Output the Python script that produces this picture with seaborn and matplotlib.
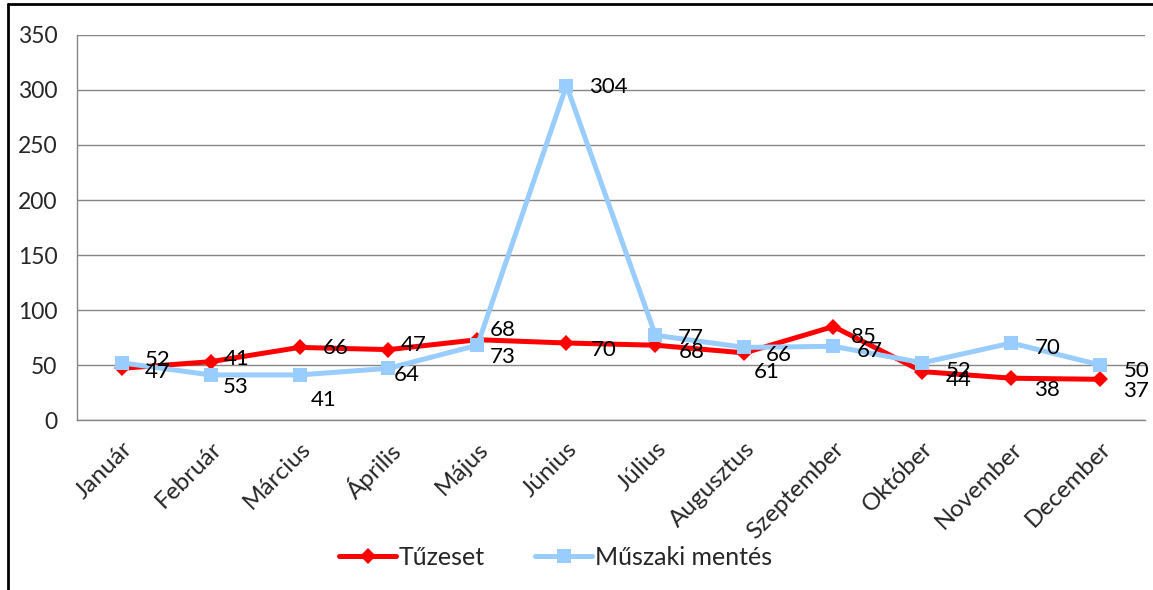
import pandas as pd
import matplotlib.pyplot as plt
import seaborn as sns
from matplotlib.lines import Line2D

# Adatok
honapok = ['Január', 'Február', 'Március', 'Április', 'Május', 'Június',
           'Július', 'Augusztus', 'Szeptember', 'Október', 'November', 'December']
tuzeset = [47, 53, 66, 64, 73, 70, 68, 61, 85, 44, 38, 37]
muszaki = [52, 41, 41, 47, 68, 304, 77, 66, 67, 52, 70, 50]
y_ticks = [0, 50, 100, 150, 200, 250, 300, 350]

# címke eltolások pixelben (x, y)
tuz_off = [(23, -4), (12, -25), (23, -1), (5, -25), (12, -17), (24, -7),
           (23, -7), (9, -19), (17, -10), (23, -8), (23, -12), (23, -12)]
mus_off = [(23, 3), (13, 16), (11, -25), (12, 23), (12, 15), (23, -1),
           (22, -3), (21, -8), (23, -5), (23, -8), (23, -5), (23, -6)]

sns.set_style('white')
plt.rcParams['font.family'] = ['Lato', 'DejaVu Sans']
FS = 16

df = pd.DataFrame({
    'honap': honapok * 2,
    'ertek': tuzeset + muszaki,
    'sorozat': ['Tűzeset'] * 12 + ['Műszaki mentés'] * 12,
})

fig = plt.figure(figsize=(11.53, 5.90), dpi=100)
ax = fig.add_axes([0.0668, 0.2881, 0.9262, 0.6526])

sns.lineplot(data=df, x='honap', y='ertek', hue='sorozat', style='sorozat',
             palette={'Tűzeset': '#FF0000', 'Műszaki mentés': '#99CCFF'},
             markers={'Tűzeset': 'D', 'Műszaki mentés': 's'},
             dashes=False, sort=False, linewidth=3.6, markeredgewidth=0,
             ax=ax)
for ln in ax.lines:
    if ln.get_marker() == 'D':
        ln.set_markersize(8.5)
    elif ln.get_marker() == 's':
        ln.set_markersize(10)

# adatcímkék
for i, (v, off) in enumerate(zip(tuzeset, tuz_off)):
    ax.annotate(str(v), (i, v), xytext=off, textcoords='offset pixels',
                ha='left', va='center', fontsize=FS, color='black')
for i, (v, off) in enumerate(zip(muszaki, mus_off)):
    ax.annotate(str(v), (i, v), xytext=off, textcoords='offset pixels',
                ha='left', va='center', fontsize=FS, color='black')

ax.set_xlim(-0.5, 11.5)
ax.set_ylim(0, 350)
ax.set_yticks(y_ticks)
ax.set_xticks(range(12))
ax.set_xticks([i - 0.5 for i in range(13)], minor=True)
ax.set_xticklabels(honapok, rotation=45, ha='right', rotation_mode='anchor',
                   fontsize=17.5)
ax.tick_params(axis='x', which='major', length=0, pad=13)
ax.tick_params(axis='x', which='minor', length=6, color='#868686', width=1)
ax.tick_params(axis='y', length=8, color='#868686', width=1, labelsize=16.5, pad=6)
ax.yaxis.grid(True, color='#868686', linewidth=1)
ax.set_axisbelow(True)
ax.set_xlabel('')
ax.set_ylabel('')
for s in ['top', 'right']:
    ax.spines[s].set_visible(False)
for s in ['left', 'bottom']:
    ax.spines[s].set_color('#868686')
    ax.spines[s].set_linewidth(1)

ax.legend(loc='center', bbox_to_anchor=(0.448, -0.356), ncol=2, frameon=False,
          fontsize=18, handlelength=2.3, handletextpad=0.1, columnspacing=2.0)

# keret
fig.add_artist(Line2D([8 / 1153, 8 / 1153], [0, 1 - 4 / 590], color='black', lw=2))
fig.add_artist(Line2D([8 / 1153, 1], [1 - 4 / 590, 1 - 4 / 590], color='black', lw=2))

plt.savefig('out.png', dpi=100)
